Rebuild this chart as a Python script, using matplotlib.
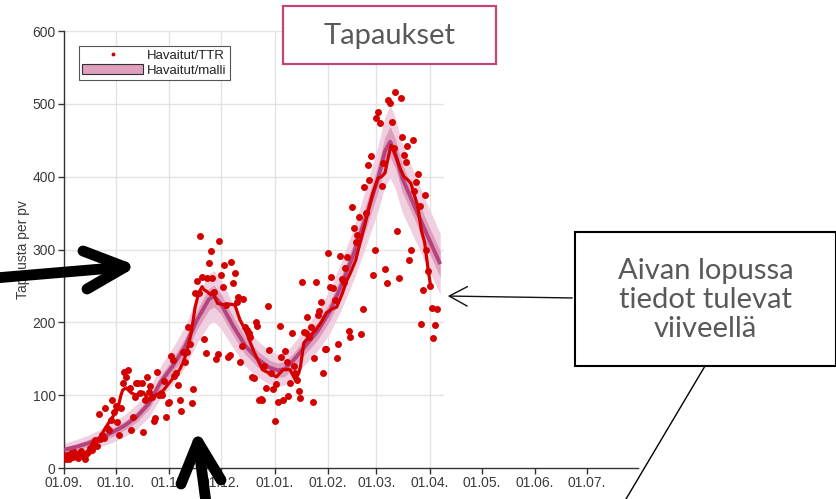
import numpy as np
import matplotlib
matplotlib.use("Agg")
import matplotlib.pyplot as plt
from matplotlib.lines import Line2D
from matplotlib.patches import Rectangle, FancyArrowPatch, Patch, ArrowStyle

# ---------------- data (days since 01.09.2020) ----------------
obs_val = [
    16, 13, 18, 12, 20, 15, 22,
    17, 14, 21, 24, 16, 13, 19,
    22, 28, 25, 33, 38, 30, 74,
    40, 45, 41, 82, 55, 52, 66,
    93, 77, 85, 63, 45, 82, 117,
    132, 125, 135, 110, 52, 70, 98,
    117, 117, 103, 117, 50, 93, 125,
    105, 112, 98, 64, 69, 132, 100,
    103, 100, 119, 70, 89, 90, 154,
    148, 126, 130, 114, 93, 78, 159,
    146, 159, 194, 170, 89, 108, 240,
    257, 240, 319, 262, 177, 158, 261,
    282, 298, 261, 242, 150, 157, 312,
    265, 249, 279, 224, 153, 155, 283,
    254, 268, 228, 235, 146, 168, 232,
    194, 190, 185, 180, 125, 124, 200,
    195, 93, 95, 93, 140, 110, 222,
    162, 130, 109, 65, 115, 91, 195,
    153, 93, 161, 146, 99, 117, 186,
    140, 130, 121, 106, 96, 255, 187,
    185, 207, 180, 194, 91, 151, 255,
    210, 215, 228, 130, 163, 163, 295,
    249, 262, 247, 230, 151, 170, 291,
    260, 255, 275, 290, 188, 180, 358,
    330, 310, 320, 345, 184, 218, 386,
    350, 416, 395, 428, 265, 300, 481,
    489, 474, 387, 419, 273, 254, 505,
    501, 475, 440, 516, 326, 261, 508,
    455, 430, 420, 442, 285, 300, 450,
    380, 392, 403, 360, 198, 245, 375,
    300, 270, 250, 220, 178, 197, 218,
]

avg_day = [0, 5, 10, 13, 15, 18, 21, 24, 27, 31, 33, 34, 36, 39, 42, 44, 46, 48, 50,
           53, 56, 58, 61, 64, 67, 69, 71, 73, 74, 76, 78, 80, 81, 83, 85, 86, 89,
           93, 96, 99, 102, 105, 108, 110, 112, 115, 119, 121, 123, 125, 127, 131,
           134, 136, 137, 139, 142, 146, 149, 152, 155, 158, 161, 164, 166, 169,
           171, 173, 175, 177, 179, 182, 184, 186, 188, 189.5, 191, 193, 195, 197,
           199, 201, 203, 205, 207, 209, 211, 212.5]
avg_val = [16, 16, 17, 20, 25, 33, 43, 55, 66, 80, 100, 107, 110, 103, 100, 104, 104,
           97, 93, 100, 103, 108, 117, 126, 135, 145, 158, 178, 190, 221, 240, 249,
           245, 242, 238, 242, 226, 224, 225, 224, 203, 190, 172, 160, 150, 135, 130,
           128, 125, 130, 135, 135, 121, 130, 139, 172, 180, 190, 200, 213, 218, 221,
           238, 258, 268, 285, 304, 322, 340, 360, 378, 398, 400, 405, 428, 443, 435,
           423, 410, 400, 396, 391, 375, 359, 327, 309, 272, 249]

model_day = [0, 7, 14, 21, 28, 35, 42, 49, 56, 63, 70, 77, 84, 87, 91, 98, 105, 112,
             119, 124, 128, 133, 140, 147, 154, 161, 168, 175, 182, 186, 189, 192,
             196, 203, 210, 218]
model_val = [25, 29, 34, 41, 49, 58, 70, 88, 118, 140, 166, 203, 232, 236, 225, 195,
             168, 150, 138, 134, 136, 148, 168, 188, 215, 252, 295, 345, 398, 435,
             448, 432, 398, 360, 322, 280]
outer_hw = [9, 10, 11, 12, 14, 15, 17, 19, 22, 25, 28, 32, 35, 35, 34, 30, 28, 25,
            23, 22, 22, 23, 25, 27, 30, 33, 36, 40, 45, 48, 50, 49, 47, 45, 43, 42]
inner_hw = [4, 4, 5, 5, 6, 6, 7, 8, 9, 10, 12, 13, 15, 15, 14, 13, 12, 11,
            10, 10, 10, 10, 11, 12, 13, 14, 15, 17, 19, 20, 21, 20, 19, 18, 18, 18]

month_ticks = [0, 30, 61, 91, 122, 153, 181, 212, 242, 273, 303]
month_labels = ["01.09.", "01.10.", "01.11.", "01.12.", "01.01.", "01.02.",
                "01.03.", "01.04.", "01.05.", "01.06.", "01.07."]
y_ticks = [0, 100, 200, 300, 400, 500, 600]

# ---------------- figure ----------------
W, H = 837, 499
fig = plt.figure(figsize=(W / 100, H / 100), dpi=100)
ax = fig.add_axes([64 / W, 1 - 468 / H, (638 - 64) / W, (468 - 31) / H])

axis_font = "Liberation Sans"
tcol = "#3a3a3a"

obs_day = np.arange(len(obs_val))
md = np.array(model_day, float)
mv = np.array(model_val, float)
ow = np.array(outer_hw, float)
iw = np.array(inner_hw, float)

grid_end = 219.6
for t in month_ticks:
    if t <= grid_end:
        ax.plot([t, t], [0, 600], color="#e3e3e3", lw=1.0, zorder=0)
for yv in y_ticks[1:]:
    ax.plot([0, grid_end], [yv, yv], color="#e3e3e3", lw=1.0, zorder=0)

ax.fill_between(md, mv - ow, mv + ow, color="#f0d0e0", lw=0, zorder=1)
ax.fill_between(md, mv - iw, mv + iw, color="#de9fbd", lw=0, zorder=2)
ax.plot(md, mv, color="#b4437e", lw=2.8, zorder=3, solid_capstyle="butt")
ax.plot(avg_day, avg_val, color="#d40000", lw=2.3, zorder=4)
ax.plot(obs_day, obs_val, "o", color="#d40000", ms=5.0, mew=0, zorder=5)

ax.set_xlim(0, 332.6)
ax.set_ylim(0, 600)
ax.set_xticks(month_ticks)
ax.set_xticklabels(month_labels)
ax.set_yticks(y_ticks)
for s in ["top", "right"]:
    ax.spines[s].set_visible(False)
for s in ["left", "bottom"]:
    ax.spines[s].set_color("#333333")
    ax.spines[s].set_linewidth(1.0)
ax.tick_params(axis="both", direction="out", length=4, width=1, color="#333333",
               labelcolor=tcol, labelsize=10, pad=2)
for lab in ax.get_xticklabels() + ax.get_yticklabels():
    lab.set_fontfamily(axis_font)
ax.set_ylabel("Tapausta per pv", fontsize=10, color=tcol, fontfamily=axis_font, labelpad=2)

h1 = Line2D([], [], ls="none", marker="o", ms=2.8, color="#d40000", mew=0)
h2 = Patch(facecolor="#e0a0bc", edgecolor="#303030", lw=0.8)
leg = ax.legend([h1, h2], ["Havaitut/TTR", "Havaitut/malli"], loc="upper left",
                bbox_to_anchor=(0.026, 0.965), borderaxespad=0, fancybox=False,
                edgecolor="#555555", framealpha=1, handlelength=4.6,
                handleheight=0.8, handletextpad=0.3, labelspacing=0.15,
                borderpad=0.25, prop={"family": axis_font, "size": 9.5})
leg.get_frame().set_linewidth(0.8)
for t in leg.get_texts():
    t.set_color("#222222")


def P(x, y):
    return (x / W, 1 - y / H)


box_font = "Lato"
gtext = "#595959"

# title box
x0, y0 = P(283, 64)
fig.add_artist(Rectangle((x0, y0), (496 - 283) / W, (64 - 6) / H,
                         transform=fig.transFigure, facecolor="white",
                         edgecolor="#c4447a", lw=1.6, zorder=10))
fig.text(*P(389.5, 36), "Tapaukset", ha="center", va="center", fontsize=21,
         color=gtext, fontfamily=box_font, zorder=11)

# callout box
x0, y0 = P(575, 366)
fig.add_artist(Rectangle((x0, y0), (836 - 575) / W, (366 - 232) / H,
                         transform=fig.transFigure, facecolor="white",
                         edgecolor="black", lw=1.5, zorder=10))
fig.text(*P(705.5, 300), "Aivan lopussa\ntiedot tulevat\nviiveellä", ha="center",
         va="center", fontsize=21, color=gtext, fontfamily=box_font,
         linespacing=1.15, zorder=11)

# thin pointer arrow
fig.add_artist(FancyArrowPatch(P(575, 298), P(445, 296), transform=fig.transFigure,
                               arrowstyle=ArrowStyle("->", head_length=13, head_width=7),
                               mutation_scale=1, lw=1.0, color="#111111", zorder=12))
# thin diagonal line
fig.add_artist(Line2D([705 / W, 626 / W], [1 - 366 / H, 1 - 499 / H],
                      transform=fig.transFigure, color="black", lw=1.0, zorder=12))


# thick arrows
def thick(xs, ys):
    fig.add_artist(Line2D([x / W for x in xs], [1 - y / H for y in ys],
                          transform=fig.transFigure, color="black", lw=7.8,
                          solid_capstyle="round", solid_joinstyle="round", zorder=12))


thick([-5, 125], [278, 267])
thick([83, 125, 87], [251, 267, 289])
thick([198, 207], [442, 510])
thick([181, 198, 221], [484, 442, 480])

fig.savefig("out.png", dpi=100)
